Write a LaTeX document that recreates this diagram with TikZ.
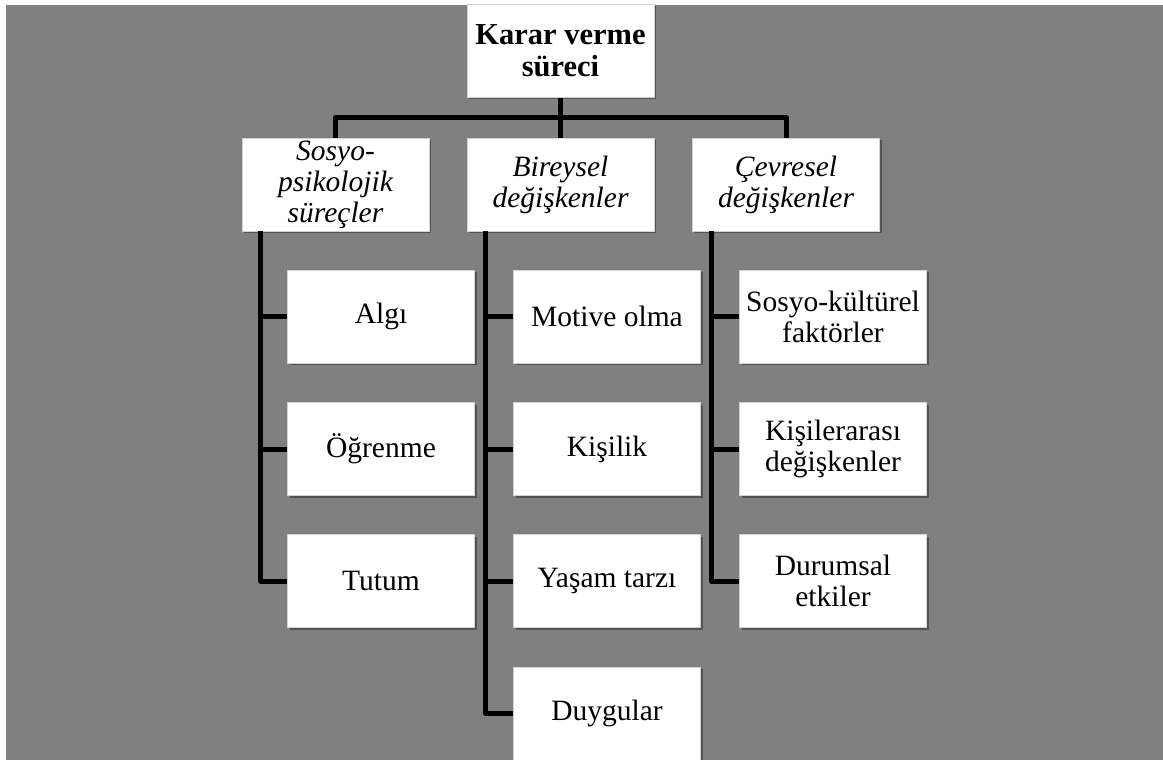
\documentclass[tikz,border=0pt]{standalone}
\usepackage{fontspec}
\setmainfont{Liberation Serif}
\usetikzlibrary{shadows}
\definecolor{bggray}{RGB}{128,128,128}

\begin{document}
\begin{tikzpicture}[
    x=1pt, y=-1pt,
    every node/.style={rectangle, draw=gray!35, line width=0.8pt, fill=white,
      minimum width=187pt, minimum height=93pt, inner sep=0pt, align=center,
      font=\fontsize{29.5}{31}\selectfont,
      drop shadow={shadow xshift=2pt, shadow yshift=-2pt, opacity=.35, fill=black}},
    topbox/.style={font=\fontsize{30.5}{32}\selectfont\bfseries},
    groupbox/.style={font=\fontsize{29.5}{31}\selectfont\itshape},
    link/.style={line width=5pt, line join=round, draw=black}
  ]
    \useasboundingbox (0,0) rectangle (1163,760);
    \fill[bggray] (6,5) rectangle (1163,760);

    \node[topbox] (K) at (560.5, 51) {Karar verme\\süreci};

    \node[groupbox] (S) at (335.5, 184.5) {Sosyo-\\psikolojik\\süreçler};
    \node[groupbox] (B) at (560.5, 184.5) {Bireysel\\değişkenler};
    \node[groupbox] (C) at (786, 184.5) {Çevresel\\değişkenler};

    \node (S1) at (381, 316.5) {Algı};
    \node (S2) at (381, 449) {Öğrenme};
    \node (S3) at (381, 581) {Tutum};

    \node (B1) at (607, 316.5) {Motive olma};
    \node (B2) at (607, 449) {Kişilik};
    \node (B3) at (607, 581) {Yaşam tarzı};
    \node (B4) at (607, 713.5) {Duygular};

    \node (C1) at (833, 316.5) {Sosyo-kültürel\\faktörler};
    \node (C2) at (833, 449) {Kişilerarası\\değişkenler};
    \node (C3) at (833, 581) {Durumsal\\etkiler};

    \draw[link] (K.south) -- ++(0,20) -| (S.north);
    \draw[link] (K.south) -- ++(0,20) -| (C.north);
    \draw[link] (K.south) -- (B.north);

    \draw[link] ([xshift=19pt]S.south west) |- (S1.west);
    \draw[link] ([xshift=19pt]S.south west) |- (S2.west);
    \draw[link] ([xshift=19pt]S.south west) |- (S3.west);

    \draw[link] ([xshift=19pt]B.south west) |- (B1.west);
    \draw[link] ([xshift=19pt]B.south west) |- (B2.west);
    \draw[link] ([xshift=19pt]B.south west) |- (B3.west);
    \draw[link] ([xshift=19pt]B.south west) |- (B4.west);

    \draw[link] ([xshift=19pt]C.south west) |- (C1.west);
    \draw[link] ([xshift=19pt]C.south west) |- (C2.west);
    \draw[link] ([xshift=19pt]C.south west) |- (C3.west);
  \end{tikzpicture}
\end{document}
